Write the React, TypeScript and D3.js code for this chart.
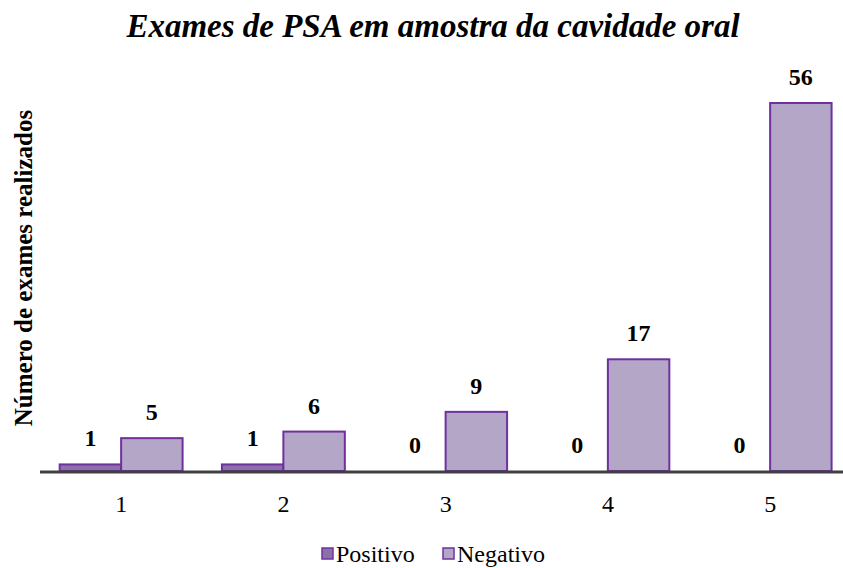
import React from 'react'
import * as d3 from 'd3'

const categories = ['1', '2', '3', '4', '5']
const positivo = [1, 1, 0, 0, 0]
const negativo = [5, 6, 9, 17, 56]
const seriesNames = ['Positivo', 'Negativo']

const W = 843
const H = 568
const plot = { left: 40, right: 851.25, top: 103, base: 471 }
const font = '"Liberation Serif", "Times New Roman", serif'
const stroke = '#7030A0'
const fills = ['#8A72A8', '#B3A6C6']

const App = () => {
  const x = d3.scaleBand().domain(categories).range([plot.left, plot.right])
  const inner = d3.scaleBand().domain(seriesNames).range([0, x.bandwidth()]).paddingOuter(0.32)
  const y = d3.scaleLinear().domain([0, 56]).range([plot.base, plot.top])
  const series = [positivo, negativo]

  return (
    <svg width={W} height={H} style={{ position: 'absolute', left: 0, top: 0 }}>
      <rect width={W} height={H} fill="#fff" />
      <text x={433} y={37} textAnchor="middle" fontFamily={font} fontSize={33} fontWeight="bold" fontStyle="italic">
        Exames de PSA em amostra da cavidade oral
      </text>
      <text transform={`translate(32, 268) rotate(-90)`} textAnchor="middle" fontFamily={font} fontSize={25} fontWeight="bold">
        Número de exames realizados
      </text>
      {categories.map((c, i) => (
        <g key={c}>
          {series.map((s, j) => {
            const bx = x(c)! + inner(seriesNames[j])!
            const by = y(s[i])
            return (
              <g key={j}>
                {s[i] > 0 && (
                  <rect x={bx} y={by} width={inner.bandwidth()} height={plot.base - by}
                    fill={fills[j]} stroke={stroke} strokeWidth={2} />
                )}
                <text x={bx + inner.bandwidth() / 2} y={by - 18} textAnchor="middle"
                  fontFamily={font} fontSize={24} fontWeight="bold">{s[i]}</text>
              </g>
            )
          })}
          <text x={x(c)! + x.bandwidth() / 2} y={512} textAnchor="middle" fontFamily={font} fontSize={24}>{c}</text>
        </g>
      ))}
      <line x1={plot.left} x2={W} y1={plot.base + 1} y2={plot.base + 1} stroke="#404040" strokeWidth={3} />
      {seriesNames.map((n, j) => {
        const lx = [322, 443][j]
        return (
          <g key={n}>
            <rect x={lx} y={548} width={11} height={11} fill={fills[j]} stroke={stroke} strokeWidth={1.5} />
            <text x={lx + 14} y={562} fontFamily={font} fontSize={24}>{n}</text>
          </g>
        )
      })}
    </svg>
  )
}

export default App
